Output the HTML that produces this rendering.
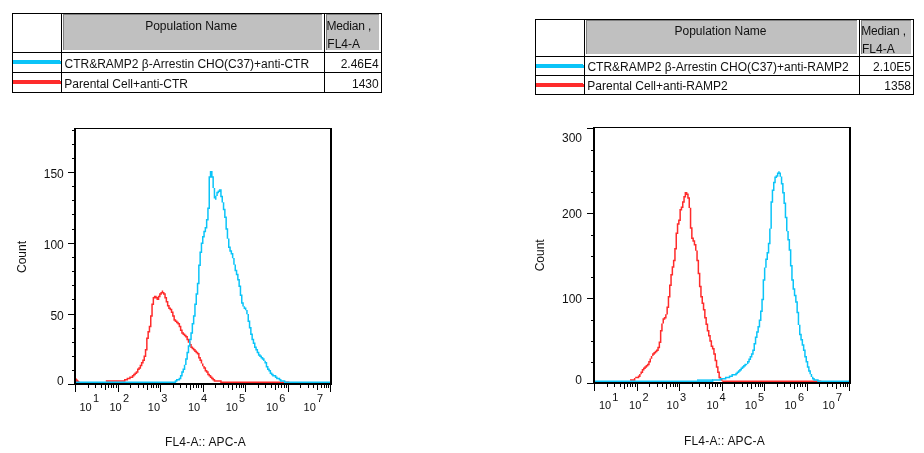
<!DOCTYPE html>
<html><head><meta charset="utf-8"><title>Flow cytometry histograms</title>
<style>
html,body{margin:0;padding:0;background:#fff;}
body{width:924px;height:453px;position:relative;overflow:hidden;font-family:"Liberation Sans",sans-serif;}
</style></head><body>
<svg width="924" height="453" viewBox="0 0 924 453" style="position:absolute;left:0;top:0" font-family="Liberation Sans, sans-serif" fill="#111">
<rect width="924" height="453" fill="#fff"/>
<g shape-rendering="crispEdges">
<rect x="12" y="13" width="370" height="1" fill="#000"/>
<rect x="12" y="52" width="370" height="1" fill="#000"/>
<rect x="12" y="72" width="370" height="1" fill="#000"/>
<rect x="12" y="92" width="370" height="1" fill="#000"/>
<rect x="12" y="13" width="1" height="80" fill="#000"/>
<rect x="61" y="13" width="1" height="80" fill="#000"/>
<rect x="324" y="13" width="1" height="80" fill="#000"/>
<rect x="381" y="13" width="1" height="80" fill="#000"/>
<rect x="63" y="14" width="259" height="36" fill="#808080"/>
<rect x="64" y="15" width="258" height="35" fill="#c0c0c0"/>
<rect x="326" y="14" width="53" height="36" fill="#808080"/>
<rect x="327" y="15" width="52" height="35" fill="#c0c0c0"/>
<rect x="13" y="60" width="48" height="4" fill="#0ac4f8"/>
<rect x="13" y="80" width="48" height="4" fill="#fe2b2b"/>
<rect x="60" y="60" width="1" height="1" fill="#fff"/>
<rect x="60" y="80" width="1" height="1" fill="#fff"/>
<rect x="535" y="19" width="379" height="1" fill="#000"/>
<rect x="535" y="56" width="379" height="1" fill="#000"/>
<rect x="535" y="75" width="379" height="1" fill="#000"/>
<rect x="535" y="94" width="379" height="1" fill="#000"/>
<rect x="535" y="19" width="1" height="76" fill="#000"/>
<rect x="584" y="19" width="1" height="76" fill="#000"/>
<rect x="859" y="19" width="1" height="76" fill="#000"/>
<rect x="913" y="19" width="1" height="76" fill="#000"/>
<rect x="586" y="20" width="271" height="34" fill="#808080"/>
<rect x="587" y="21" width="270" height="33" fill="#c0c0c0"/>
<rect x="861" y="20" width="50" height="34" fill="#808080"/>
<rect x="862" y="21" width="49" height="33" fill="#c0c0c0"/>
<rect x="536" y="64" width="48" height="4" fill="#0ac4f8"/>
<rect x="536" y="83" width="48" height="4" fill="#fe2b2b"/>
<rect x="583" y="64" width="1" height="1" fill="#fff"/>
<rect x="583" y="83" width="1" height="1" fill="#fff"/>
</g>
<path d="M75.5,377.6 L80.2,382.3 L75.5,382.3Z" fill="#fe2b2b"/>
<g shape-rendering="crispEdges">
<rect x="74" y="128" width="2" height="257" fill="#000"/>
<rect x="330" y="128" width="2" height="257" fill="#000"/>
<rect x="74" y="128" width="258" height="1" fill="#000"/>
<rect x="74" y="383" width="258" height="2" fill="#000"/>
<rect x="68" y="384" width="6" height="1" fill="#000"/>
<rect x="72" y="370" width="2" height="1" fill="#000"/>
<rect x="72" y="356" width="2" height="1" fill="#000"/>
<rect x="72" y="342" width="2" height="1" fill="#000"/>
<rect x="72" y="328" width="2" height="1" fill="#000"/>
<rect x="68" y="314" width="6" height="1" fill="#000"/>
<rect x="72" y="299" width="2" height="1" fill="#000"/>
<rect x="72" y="285" width="2" height="1" fill="#000"/>
<rect x="72" y="271" width="2" height="1" fill="#000"/>
<rect x="72" y="257" width="2" height="1" fill="#000"/>
<rect x="68" y="243" width="6" height="1" fill="#000"/>
<rect x="72" y="229" width="2" height="1" fill="#000"/>
<rect x="72" y="214" width="2" height="1" fill="#000"/>
<rect x="72" y="200" width="2" height="1" fill="#000"/>
<rect x="72" y="186" width="2" height="1" fill="#000"/>
<rect x="68" y="172" width="6" height="1" fill="#000"/>
<rect x="72" y="158" width="2" height="1" fill="#000"/>
<rect x="72" y="144" width="2" height="1" fill="#000"/>
<rect x="72" y="130" width="2" height="1" fill="#000"/>
<rect x="75" y="385" width="1" height="7" fill="#000"/>
<rect x="88" y="385" width="1" height="3" fill="#000"/>
<rect x="95" y="385" width="1" height="3" fill="#000"/>
<rect x="101" y="385" width="1" height="3" fill="#000"/>
<rect x="105" y="385" width="1" height="5" fill="#000"/>
<rect x="108" y="385" width="1" height="3" fill="#000"/>
<rect x="111" y="385" width="1" height="3" fill="#000"/>
<rect x="113" y="385" width="1" height="3" fill="#000"/>
<rect x="116" y="385" width="1" height="3" fill="#000"/>
<rect x="118" y="385" width="1" height="7" fill="#000"/>
<rect x="130" y="385" width="1" height="3" fill="#000"/>
<rect x="138" y="385" width="1" height="3" fill="#000"/>
<rect x="143" y="385" width="1" height="3" fill="#000"/>
<rect x="147" y="385" width="1" height="5" fill="#000"/>
<rect x="151" y="385" width="1" height="3" fill="#000"/>
<rect x="153" y="385" width="1" height="3" fill="#000"/>
<rect x="156" y="385" width="1" height="3" fill="#000"/>
<rect x="158" y="385" width="1" height="3" fill="#000"/>
<rect x="160" y="385" width="1" height="7" fill="#000"/>
<rect x="173" y="385" width="1" height="3" fill="#000"/>
<rect x="180" y="385" width="1" height="3" fill="#000"/>
<rect x="186" y="385" width="1" height="3" fill="#000"/>
<rect x="190" y="385" width="1" height="5" fill="#000"/>
<rect x="193" y="385" width="1" height="3" fill="#000"/>
<rect x="196" y="385" width="1" height="3" fill="#000"/>
<rect x="198" y="385" width="1" height="3" fill="#000"/>
<rect x="201" y="385" width="1" height="3" fill="#000"/>
<rect x="203" y="385" width="1" height="7" fill="#000"/>
<rect x="215" y="385" width="1" height="3" fill="#000"/>
<rect x="223" y="385" width="1" height="3" fill="#000"/>
<rect x="228" y="385" width="1" height="3" fill="#000"/>
<rect x="232" y="385" width="1" height="5" fill="#000"/>
<rect x="236" y="385" width="1" height="3" fill="#000"/>
<rect x="239" y="385" width="1" height="3" fill="#000"/>
<rect x="241" y="385" width="1" height="3" fill="#000"/>
<rect x="243" y="385" width="1" height="3" fill="#000"/>
<rect x="245" y="385" width="1" height="7" fill="#000"/>
<rect x="258" y="385" width="1" height="3" fill="#000"/>
<rect x="265" y="385" width="1" height="3" fill="#000"/>
<rect x="271" y="385" width="1" height="3" fill="#000"/>
<rect x="275" y="385" width="1" height="5" fill="#000"/>
<rect x="278" y="385" width="1" height="3" fill="#000"/>
<rect x="281" y="385" width="1" height="3" fill="#000"/>
<rect x="284" y="385" width="1" height="3" fill="#000"/>
<rect x="286" y="385" width="1" height="3" fill="#000"/>
<rect x="288" y="385" width="1" height="7" fill="#000"/>
<rect x="300" y="385" width="1" height="3" fill="#000"/>
<rect x="308" y="385" width="1" height="3" fill="#000"/>
<rect x="313" y="385" width="1" height="3" fill="#000"/>
<rect x="317" y="385" width="1" height="5" fill="#000"/>
<rect x="321" y="385" width="1" height="3" fill="#000"/>
<rect x="324" y="385" width="1" height="3" fill="#000"/>
<rect x="326" y="385" width="1" height="3" fill="#000"/>
<rect x="328" y="385" width="1" height="3" fill="#000"/>
<rect x="330" y="385" width="1" height="7" fill="#000"/>
</g>
<clipPath id="clip74"><rect x="76" y="129" width="254" height="254"/></clipPath>
<g clip-path="url(#clip74)">
<path d="M105.80,380.30h18.40v1.50h-18.40zM124.00,379.00h1.50v2.80h-1.50zM125.30,379.00h1.50v1.50h-1.50zM126.60,377.70h1.50v2.80h-1.50zM127.90,377.70h1.50v1.50h-1.50zM129.20,376.40h1.50v2.80h-1.50zM130.50,376.40h1.50v1.50h-1.50zM131.80,375.10h1.50v2.80h-1.50zM133.10,373.80h1.50v2.80h-1.50zM134.40,372.50h1.50v2.80h-1.50zM135.70,371.20h1.50v2.80h-1.50zM137.00,368.60h1.50v4.10h-1.50zM138.30,367.30h1.50v2.80h-1.50zM139.60,364.70h1.50v4.10h-1.50zM140.90,362.10h1.50v4.10h-1.50zM142.20,359.50h1.50v4.10h-1.50zM143.50,355.60h1.50v5.40h-1.50zM144.80,349.10h1.50v8.00h-1.50zM146.10,337.40h1.50v13.20h-1.50zM147.40,330.90h1.50v8.00h-1.50zM148.70,325.70h1.50v6.70h-1.50zM150.00,315.30h1.50v11.90h-1.50zM151.30,303.60h1.50v13.20h-1.50zM152.60,297.10h1.50v8.00h-1.50zM153.90,295.80h2.80v2.80h-2.80zM156.50,297.10h1.50v2.80h-1.50zM157.80,295.80h1.50v4.10h-1.50zM159.10,293.20h1.50v4.10h-1.50zM160.40,291.90h1.50v2.80h-1.50zM161.70,290.60h1.50v2.80h-1.50zM163.00,291.90h1.50v2.80h-1.50zM164.30,293.20h1.50v5.40h-1.50zM165.60,297.10h1.50v5.40h-1.50zM166.90,301.00h1.50v5.40h-1.50zM168.20,304.90h1.50v4.10h-1.50zM169.50,307.50h1.50v2.80h-1.50zM170.80,308.80h1.50v4.10h-1.50zM172.10,311.40h1.50v5.40h-1.50zM173.40,315.30h1.50v5.40h-1.50zM174.70,319.20h1.50v2.80h-1.50zM176.00,320.50h1.50v2.80h-1.50zM177.30,321.80h1.50v2.80h-1.50zM178.60,323.10h1.50v4.10h-1.50zM179.90,325.70h1.50v5.40h-1.50zM181.20,329.60h1.50v4.10h-1.50zM182.50,332.20h1.50v2.80h-1.50zM183.80,333.50h1.50v2.80h-1.50zM185.10,334.80h1.50v2.80h-1.50zM186.40,336.10h1.50v4.10h-1.50zM187.70,338.70h1.50v4.10h-1.50zM189.00,341.30h1.50v4.10h-1.50zM190.30,343.90h1.50v4.10h-1.50zM191.60,346.50h1.50v2.80h-1.50zM192.90,347.80h1.50v2.80h-1.50zM194.20,349.10h1.50v2.80h-1.50zM195.50,350.40h1.50v2.80h-1.50zM196.80,351.70h1.50v2.80h-1.50zM198.10,353.00h1.50v5.40h-1.50zM199.40,356.90h1.50v4.10h-1.50zM200.70,359.50h1.50v4.10h-1.50zM202.00,363.40h1.50v2.80h-1.50zM203.30,366.00h1.50v2.80h-1.50zM204.60,367.30h1.50v4.10h-1.50zM205.90,369.90h1.50v2.80h-1.50zM207.20,371.20h1.50v4.10h-1.50zM208.50,373.80h1.50v2.80h-1.50zM209.80,375.10h1.50v2.80h-1.50zM211.10,376.40h1.50v2.80h-1.50zM212.40,377.70h1.50v2.80h-1.50zM213.70,379.00h1.50v2.80h-1.50zM215.00,380.30h5.40v1.50h-5.40zM220.20,380.30h1.50v2.80h-1.50zM221.50,381.60h67.80v1.50h-67.80z" fill="#fe2b2b"/>
<path d="M75.90,381.60h99.00v1.50h-99.00zM174.70,380.30h1.50v2.80h-1.50zM176.00,379.00h1.50v2.80h-1.50zM177.30,379.00h1.50v1.50h-1.50zM178.60,377.70h1.50v2.80h-1.50zM179.90,375.10h1.50v4.10h-1.50zM181.20,371.20h1.50v5.40h-1.50zM182.50,368.60h1.50v4.10h-1.50zM183.80,364.70h1.50v5.40h-1.50zM185.10,358.20h1.50v6.70h-1.50zM186.40,351.70h1.50v8.00h-1.50zM187.70,345.20h1.50v8.00h-1.50zM189.00,338.70h1.50v8.00h-1.50zM190.30,332.20h1.50v8.00h-1.50zM191.60,323.10h1.50v10.60h-1.50zM192.90,315.30h1.50v9.30h-1.50zM194.20,303.60h1.50v13.20h-1.50zM195.50,293.20h1.50v11.90h-1.50zM196.80,282.80h1.50v11.90h-1.50zM198.10,264.60h1.50v19.70h-1.50zM199.40,251.60h1.50v14.50h-1.50zM200.70,242.50h1.50v10.60h-1.50zM202.00,236.00h1.50v8.00h-1.50zM203.30,230.80h1.50v6.70h-1.50zM204.60,226.90h1.50v5.40h-1.50zM205.90,219.10h1.50v9.30h-1.50zM207.20,207.40h1.50v13.20h-1.50zM208.50,176.20h1.50v32.70h-1.50zM209.80,171.00h2.80v6.70h-2.80zM212.40,176.20h1.50v11.90h-1.50zM213.70,187.90h1.50v10.60h-1.50zM215.00,195.70h1.50v4.10h-1.50zM216.30,191.80h1.50v4.10h-1.50zM217.60,190.50h1.50v2.80h-1.50zM218.90,189.20h1.50v2.80h-1.50zM220.20,189.20h1.50v8.00h-1.50zM221.50,195.70h1.50v6.70h-1.50zM222.80,202.20h1.50v8.00h-1.50zM224.10,208.70h1.50v9.30h-1.50zM225.40,216.50h1.50v13.20h-1.50zM226.70,228.20h1.50v10.60h-1.50zM228.00,238.60h1.50v9.30h-1.50zM229.30,246.40h1.50v5.40h-1.50zM230.60,250.30h1.50v4.10h-1.50zM231.90,252.90h1.50v5.40h-1.50zM233.20,258.10h1.50v6.70h-1.50zM234.50,264.60h1.50v6.70h-1.50zM235.80,269.80h1.50v5.40h-1.50zM237.10,273.70h1.50v6.70h-1.50zM238.40,278.90h1.50v8.00h-1.50zM239.70,285.40h1.50v10.60h-1.50zM241.00,294.50h1.50v9.30h-1.50zM242.30,302.30h1.50v4.10h-1.50zM243.60,306.20h1.50v2.80h-1.50zM244.90,307.50h1.50v2.80h-1.50zM246.20,310.10h1.50v4.10h-1.50zM247.50,314.00h1.50v8.00h-1.50zM248.80,320.50h1.50v8.00h-1.50zM250.10,327.00h1.50v8.00h-1.50zM251.40,333.50h1.50v6.70h-1.50zM252.70,338.70h1.50v5.40h-1.50zM254.00,342.60h1.50v5.40h-1.50zM255.30,346.50h1.50v4.10h-1.50zM256.60,349.10h1.50v4.10h-1.50zM257.90,351.70h1.50v4.10h-1.50zM259.20,354.30h1.50v2.80h-1.50zM260.50,355.60h1.50v2.80h-1.50zM261.80,356.90h1.50v2.80h-1.50zM263.10,358.20h1.50v2.80h-1.50zM264.40,360.80h1.50v2.80h-1.50zM265.70,362.10h1.50v5.40h-1.50zM267.00,366.00h1.50v4.10h-1.50zM268.30,368.60h1.50v2.80h-1.50zM269.60,369.90h1.50v4.10h-1.50zM270.90,372.50h1.50v2.80h-1.50zM272.20,373.80h1.50v2.80h-1.50zM273.50,375.10h1.50v1.50h-1.50zM274.80,375.10h1.50v2.80h-1.50zM276.10,376.40h1.50v2.80h-1.50zM277.40,377.70h1.50v1.50h-1.50zM278.70,377.70h1.50v2.80h-1.50zM280.00,379.00h1.50v2.80h-1.50zM281.30,380.30h2.80v1.50h-2.80zM283.90,380.30h1.50v2.80h-1.50zM285.20,381.60h45.70v1.50h-45.70z" fill="#0ac4f8"/>
</g>
<g shape-rendering="crispEdges">
<rect x="593" y="127" width="2" height="257" fill="#000"/>
<rect x="849" y="127" width="2" height="257" fill="#000"/>
<rect x="593" y="127" width="258" height="1" fill="#000"/>
<rect x="593" y="382" width="258" height="2" fill="#000"/>
<rect x="587" y="383" width="6" height="1" fill="#000"/>
<rect x="591" y="362" width="2" height="1" fill="#000"/>
<rect x="591" y="341" width="2" height="1" fill="#000"/>
<rect x="591" y="320" width="2" height="1" fill="#000"/>
<rect x="587" y="298" width="6" height="1" fill="#000"/>
<rect x="591" y="277" width="2" height="1" fill="#000"/>
<rect x="591" y="256" width="2" height="1" fill="#000"/>
<rect x="591" y="235" width="2" height="1" fill="#000"/>
<rect x="587" y="213" width="6" height="1" fill="#000"/>
<rect x="591" y="192" width="2" height="1" fill="#000"/>
<rect x="591" y="171" width="2" height="1" fill="#000"/>
<rect x="591" y="150" width="2" height="1" fill="#000"/>
<rect x="587" y="128" width="6" height="1" fill="#000"/>
<rect x="594" y="384" width="1" height="7" fill="#000"/>
<rect x="607" y="384" width="1" height="3" fill="#000"/>
<rect x="614" y="384" width="1" height="3" fill="#000"/>
<rect x="620" y="384" width="1" height="3" fill="#000"/>
<rect x="624" y="384" width="1" height="5" fill="#000"/>
<rect x="627" y="384" width="1" height="3" fill="#000"/>
<rect x="630" y="384" width="1" height="3" fill="#000"/>
<rect x="632" y="384" width="1" height="3" fill="#000"/>
<rect x="635" y="384" width="1" height="3" fill="#000"/>
<rect x="637" y="384" width="1" height="7" fill="#000"/>
<rect x="649" y="384" width="1" height="3" fill="#000"/>
<rect x="657" y="384" width="1" height="3" fill="#000"/>
<rect x="662" y="384" width="1" height="3" fill="#000"/>
<rect x="666" y="384" width="1" height="5" fill="#000"/>
<rect x="670" y="384" width="1" height="3" fill="#000"/>
<rect x="673" y="384" width="1" height="3" fill="#000"/>
<rect x="675" y="384" width="1" height="3" fill="#000"/>
<rect x="677" y="384" width="1" height="3" fill="#000"/>
<rect x="679" y="384" width="1" height="7" fill="#000"/>
<rect x="692" y="384" width="1" height="3" fill="#000"/>
<rect x="699" y="384" width="1" height="3" fill="#000"/>
<rect x="705" y="384" width="1" height="3" fill="#000"/>
<rect x="709" y="384" width="1" height="5" fill="#000"/>
<rect x="712" y="384" width="1" height="3" fill="#000"/>
<rect x="715" y="384" width="1" height="3" fill="#000"/>
<rect x="717" y="384" width="1" height="3" fill="#000"/>
<rect x="720" y="384" width="1" height="3" fill="#000"/>
<rect x="722" y="384" width="1" height="7" fill="#000"/>
<rect x="734" y="384" width="1" height="3" fill="#000"/>
<rect x="742" y="384" width="1" height="3" fill="#000"/>
<rect x="747" y="384" width="1" height="3" fill="#000"/>
<rect x="751" y="384" width="1" height="5" fill="#000"/>
<rect x="755" y="384" width="1" height="3" fill="#000"/>
<rect x="758" y="384" width="1" height="3" fill="#000"/>
<rect x="760" y="384" width="1" height="3" fill="#000"/>
<rect x="762" y="384" width="1" height="3" fill="#000"/>
<rect x="764" y="384" width="1" height="7" fill="#000"/>
<rect x="777" y="384" width="1" height="3" fill="#000"/>
<rect x="784" y="384" width="1" height="3" fill="#000"/>
<rect x="790" y="384" width="1" height="3" fill="#000"/>
<rect x="794" y="384" width="1" height="5" fill="#000"/>
<rect x="797" y="384" width="1" height="3" fill="#000"/>
<rect x="800" y="384" width="1" height="3" fill="#000"/>
<rect x="802" y="384" width="1" height="3" fill="#000"/>
<rect x="805" y="384" width="1" height="3" fill="#000"/>
<rect x="807" y="384" width="1" height="7" fill="#000"/>
<rect x="819" y="384" width="1" height="3" fill="#000"/>
<rect x="827" y="384" width="1" height="3" fill="#000"/>
<rect x="832" y="384" width="1" height="3" fill="#000"/>
<rect x="836" y="384" width="1" height="5" fill="#000"/>
<rect x="840" y="384" width="1" height="3" fill="#000"/>
<rect x="843" y="384" width="1" height="3" fill="#000"/>
<rect x="845" y="384" width="1" height="3" fill="#000"/>
<rect x="847" y="384" width="1" height="3" fill="#000"/>
<rect x="849" y="384" width="1" height="7" fill="#000"/>
</g>
<clipPath id="clip593"><rect x="595" y="128" width="254" height="254"/></clipPath>
<g clip-path="url(#clip593)">
<path d="M630.00,379.30h4.10v1.50h-4.10zM633.90,378.00h1.50v2.80h-1.50zM635.20,376.70h2.80v1.50h-2.80zM637.80,375.40h1.50v2.80h-1.50zM639.10,374.10h1.50v2.80h-1.50zM640.40,371.50h1.50v2.80h-1.50zM641.70,368.90h1.50v4.10h-1.50zM643.00,367.60h1.50v2.80h-1.50zM644.30,366.30h1.50v2.80h-1.50zM645.60,365.00h1.50v2.80h-1.50zM646.90,363.70h1.50v2.80h-1.50zM648.20,361.10h1.50v4.10h-1.50zM649.50,358.50h1.50v4.10h-1.50zM650.80,355.90h1.50v2.80h-1.50zM652.10,353.30h1.50v2.80h-1.50zM653.40,352.00h1.50v2.80h-1.50zM654.70,350.70h1.50v2.80h-1.50zM656.00,349.40h1.50v2.80h-1.50zM657.30,346.80h1.50v4.10h-1.50zM658.60,341.60h1.50v6.70h-1.50zM659.90,329.90h1.50v13.20h-1.50zM661.20,323.40h1.50v8.00h-1.50zM662.50,318.20h1.50v5.40h-1.50zM663.80,316.90h1.50v2.80h-1.50zM665.10,314.30h1.50v4.10h-1.50zM666.40,306.50h1.50v8.00h-1.50zM667.70,296.10h1.50v11.90h-1.50zM669.00,284.40h1.50v13.20h-1.50zM670.30,274.00h1.50v11.90h-1.50zM671.60,266.20h1.50v9.30h-1.50zM672.90,259.70h1.50v8.00h-1.50zM674.20,248.00h1.50v13.20h-1.50zM675.50,232.40h1.50v17.10h-1.50zM676.80,223.30h1.50v10.60h-1.50zM678.10,219.40h1.50v5.40h-1.50zM679.40,209.00h1.50v11.90h-1.50zM680.70,206.40h1.50v4.10h-1.50zM682.00,201.20h1.50v6.70h-1.50zM683.30,196.00h1.50v6.70h-1.50zM684.60,192.10h1.50v5.40h-1.50zM685.90,192.10h1.50v2.80h-1.50zM687.20,193.40h1.50v5.40h-1.50zM688.50,197.30h1.50v10.60h-1.50zM689.80,207.70h1.50v21.00h-1.50zM691.10,227.20h1.50v11.90h-1.50zM692.40,237.60h1.50v4.10h-1.50zM693.70,240.20h1.50v5.40h-1.50zM695.00,244.10h1.50v6.70h-1.50zM696.30,250.60h1.50v10.60h-1.50zM697.60,259.70h1.50v14.50h-1.50zM698.90,272.70h1.50v14.50h-1.50zM700.20,285.70h1.50v11.90h-1.50zM701.50,296.10h1.50v8.00h-1.50zM702.80,302.60h1.50v8.00h-1.50zM704.10,309.10h1.50v9.30h-1.50zM705.40,316.90h1.50v8.00h-1.50zM706.70,323.40h1.50v8.00h-1.50zM708.00,329.90h1.50v6.70h-1.50zM709.30,335.10h1.50v6.70h-1.50zM710.60,340.30h1.50v6.70h-1.50zM711.90,345.50h1.50v4.10h-1.50zM713.20,348.10h1.50v6.70h-1.50zM714.50,353.30h1.50v8.00h-1.50zM715.80,359.80h1.50v8.00h-1.50zM717.10,366.30h1.50v6.70h-1.50zM718.40,371.50h1.50v6.70h-1.50zM719.70,376.70h1.50v2.80h-1.50zM721.00,378.00h1.50v2.80h-1.50zM722.30,380.60h99.00v1.50h-99.00z" fill="#fe2b2b"/>
<rect x="697" y="379.40" width="16" height="1.3" fill="#0ac4f8"/>
<path d="M594.90,380.60h117.20v1.50h-117.20zM711.90,379.30h1.50v2.80h-1.50zM713.20,379.30h6.70v1.50h-6.70zM719.70,378.00h1.50v2.80h-1.50zM721.00,378.00h4.10v1.50h-4.10zM724.90,376.70h1.50v2.80h-1.50zM726.20,376.70h2.80v1.50h-2.80zM728.80,375.40h1.50v2.80h-1.50zM730.10,375.40h1.50v1.50h-1.50zM731.40,374.10h1.50v2.80h-1.50zM732.70,374.10h2.80v1.50h-2.80zM735.30,372.80h1.50v2.80h-1.50zM736.60,371.50h1.50v2.80h-1.50zM737.90,370.20h1.50v2.80h-1.50zM739.20,368.90h1.50v2.80h-1.50zM740.50,367.60h1.50v2.80h-1.50zM741.80,366.30h1.50v2.80h-1.50zM743.10,365.00h1.50v2.80h-1.50zM744.40,363.70h1.50v2.80h-1.50zM745.70,363.70h1.50v1.50h-1.50zM747.00,361.10h1.50v2.80h-1.50zM748.30,358.50h1.50v4.10h-1.50zM749.60,355.90h1.50v4.10h-1.50zM750.90,353.30h1.50v4.10h-1.50zM752.20,349.40h1.50v5.40h-1.50zM753.50,342.90h1.50v8.00h-1.50zM754.80,336.40h1.50v8.00h-1.50zM756.10,331.20h1.50v6.70h-1.50zM757.40,326.00h1.50v6.70h-1.50zM758.70,319.50h1.50v8.00h-1.50zM760.00,310.40h1.50v10.60h-1.50zM761.30,298.70h1.50v13.20h-1.50zM762.60,279.20h1.50v21.00h-1.50zM763.90,267.50h1.50v13.20h-1.50zM765.20,258.40h1.50v9.30h-1.50zM766.50,251.90h1.50v8.00h-1.50zM767.80,242.80h1.50v10.60h-1.50zM769.10,228.50h1.50v15.80h-1.50zM770.40,201.20h1.50v27.50h-1.50zM771.70,189.50h1.50v13.20h-1.50zM773.00,181.70h1.50v9.30h-1.50zM774.30,176.50h1.50v6.70h-1.50zM775.60,175.20h1.50v2.80h-1.50zM776.90,172.60h1.50v4.10h-1.50zM778.20,171.30h1.50v2.80h-1.50zM779.50,172.60h1.50v4.10h-1.50zM780.80,176.50h1.50v8.00h-1.50zM782.10,183.00h1.50v10.60h-1.50zM783.40,192.10h1.50v11.90h-1.50zM784.70,202.50h1.50v15.80h-1.50zM786.00,216.80h1.50v14.50h-1.50zM787.30,231.10h1.50v9.30h-1.50zM788.60,238.90h1.50v11.90h-1.50zM789.90,249.30h1.50v17.10h-1.50zM791.20,264.90h1.50v15.80h-1.50zM792.50,279.20h1.50v10.60h-1.50zM793.80,288.30h1.50v8.00h-1.50zM795.10,294.80h1.50v8.00h-1.50zM796.40,301.30h1.50v11.90h-1.50zM797.70,311.70h1.50v13.20h-1.50zM799.00,324.70h1.50v10.60h-1.50zM800.30,333.80h1.50v6.70h-1.50zM801.60,339.00h1.50v6.70h-1.50zM802.90,344.20h1.50v6.70h-1.50zM804.20,349.40h1.50v8.00h-1.50zM805.50,355.90h1.50v6.70h-1.50zM806.80,361.10h1.50v6.70h-1.50zM808.10,366.30h1.50v5.40h-1.50zM809.40,370.20h1.50v4.10h-1.50zM810.70,374.10h1.50v2.80h-1.50zM812.00,376.70h1.50v2.80h-1.50zM813.30,378.00h1.50v2.80h-1.50zM814.60,379.30h2.80v1.50h-2.80zM817.20,379.30h1.50v2.80h-1.50zM818.50,380.60h31.40v1.50h-31.40z" fill="#0ac4f8"/>
</g>
</svg>
<svg width="924" height="453" viewBox="0 0 924 453" style="position:absolute;left:0;top:0;will-change:transform;opacity:0.999" font-family="Liberation Sans, sans-serif" fill="#111">
<text x="191.2" y="30" font-size="12" text-anchor="middle" >Population Name</text>
<text x="326.5" y="30" font-size="12" text-anchor="start" textLength="44.9">Median ,</text>
<text x="327.3" y="48" font-size="12" text-anchor="start" >FL4-A</text>
<text x="64.5" y="68" font-size="12" text-anchor="start" >CTR&amp;RAMP2 β-Arrestin CHO(C37)+anti-CTR</text>
<text x="64.3" y="88" font-size="12" text-anchor="start" >Parental Cell+anti-CTR</text>
<text x="378.7" y="68" font-size="12" text-anchor="end" >2.46E4</text>
<text x="378.7" y="88" font-size="12" text-anchor="end" >1430</text>
<text x="720.5" y="35" font-size="12" text-anchor="middle" >Population Name</text>
<text x="861.2" y="35" font-size="12" text-anchor="start" textLength="44.9">Median ,</text>
<text x="862" y="53.2" font-size="12" text-anchor="start" >FL4-A</text>
<text x="587.4" y="71" font-size="12" text-anchor="start" >CTR&amp;RAMP2 β-Arrestin CHO(C37)+anti-RAMP2</text>
<text x="587.3" y="90" font-size="12" text-anchor="start" >Parental Cell+anti-RAMP2</text>
<text x="911" y="71" font-size="12" text-anchor="end" >2.10E5</text>
<text x="911" y="90" font-size="12" text-anchor="end" >1358</text>
<text x="63.8" y="178" font-size="12" text-anchor="end" >150</text>
<text x="63.8" y="249" font-size="12" text-anchor="end" >100</text>
<text x="63.8" y="320" font-size="12" text-anchor="end" >50</text>
<text x="63.8" y="385.3" font-size="12" text-anchor="end" >0</text>
<text x="79.5" y="410.5" font-size="11" text-anchor="start" >10</text>
<text x="92.9" y="401.7" font-size="11" text-anchor="start" >1</text>
<text x="109.5" y="410.5" font-size="11" text-anchor="start" >10</text>
<text x="123.0" y="401.7" font-size="11" text-anchor="start" >2</text>
<text x="147.8" y="410.5" font-size="11" text-anchor="start" >10</text>
<text x="161.2" y="401.7" font-size="11" text-anchor="start" >3</text>
<text x="187.9" y="410.5" font-size="11" text-anchor="start" >10</text>
<text x="200.9" y="401.7" font-size="11" text-anchor="start" >4</text>
<text x="225.7" y="410.5" font-size="11" text-anchor="start" >10</text>
<text x="239.1" y="401.7" font-size="11" text-anchor="start" >5</text>
<text x="265.9" y="410.5" font-size="11" text-anchor="start" >10</text>
<text x="279.2" y="401.7" font-size="11" text-anchor="start" >6</text>
<text x="303.6" y="410.5" font-size="11" text-anchor="start" >10</text>
<text x="317.0" y="401.7" font-size="11" text-anchor="start" >7</text>
<text x="165" y="445.7" font-size="12" text-anchor="start" textLength="80.8">FL4-A:: APC-A</text>
<text transform="translate(25.6,257) rotate(-90)" font-size="12" text-anchor="middle">Count</text>
<text x="582" y="142" font-size="12" text-anchor="end" >300</text>
<text x="582" y="218.4" font-size="12" text-anchor="end" >200</text>
<text x="582" y="303.4" font-size="12" text-anchor="end" >100</text>
<text x="582" y="384" font-size="12" text-anchor="end" >0</text>
<text x="598.9" y="409.3" font-size="11" text-anchor="start" >10</text>
<text x="612.2" y="400.5" font-size="11" text-anchor="start" >1</text>
<text x="629.1" y="409.3" font-size="11" text-anchor="start" >10</text>
<text x="642.5" y="400.5" font-size="11" text-anchor="start" >2</text>
<text x="666.6" y="409.3" font-size="11" text-anchor="start" >10</text>
<text x="680.0" y="400.5" font-size="11" text-anchor="start" >3</text>
<text x="706.5" y="409.3" font-size="11" text-anchor="start" >10</text>
<text x="719.5" y="400.5" font-size="11" text-anchor="start" >4</text>
<text x="744.8" y="409.3" font-size="11" text-anchor="start" >10</text>
<text x="758.1" y="400.5" font-size="11" text-anchor="start" >5</text>
<text x="784.5" y="409.3" font-size="11" text-anchor="start" >10</text>
<text x="797.9" y="400.5" font-size="11" text-anchor="start" >6</text>
<text x="822.6" y="409.3" font-size="11" text-anchor="start" >10</text>
<text x="836.0" y="400.5" font-size="11" text-anchor="start" >7</text>
<text x="684" y="444.8" font-size="12" text-anchor="start" textLength="80.8">FL4-A:: APC-A</text>
<text transform="translate(543.9,255.3) rotate(-90)" font-size="12" text-anchor="middle">Count</text>
</svg>
</body></html>
